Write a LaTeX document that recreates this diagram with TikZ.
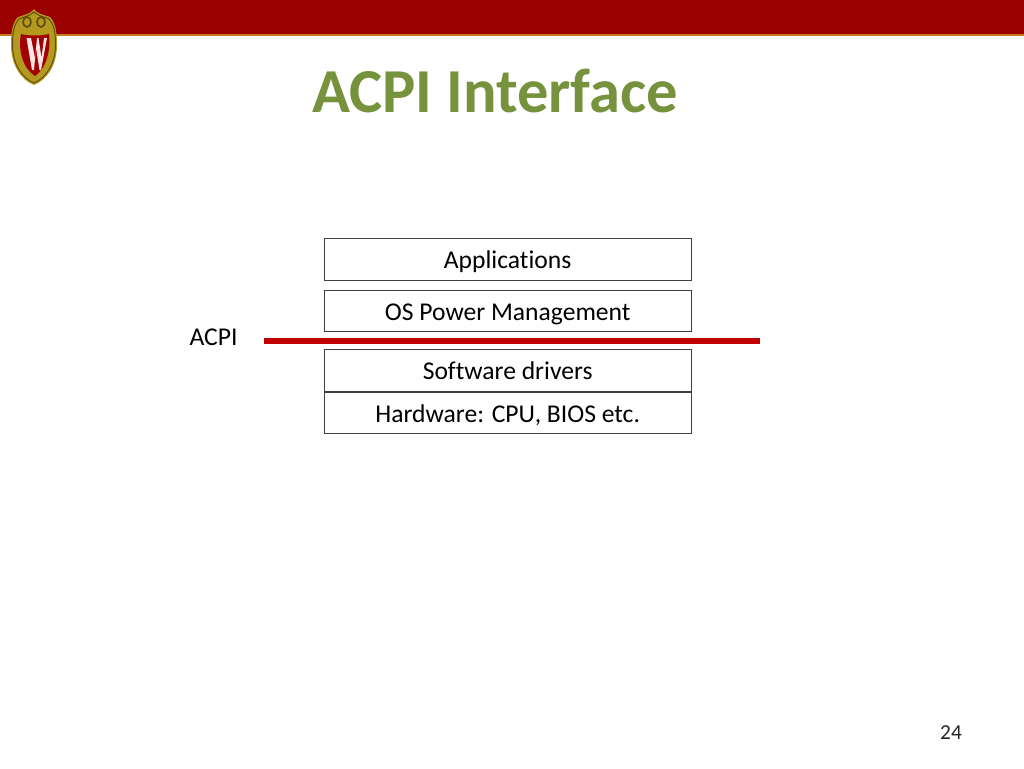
\documentclass[tikz,border=0pt]{standalone}
\usepackage{fontspec}
\setmainfont[Ligatures=NoCommon]{Carlito}
\definecolor{barred}{HTML}{9B0000}
\definecolor{barline}{HTML}{C8781E}
\definecolor{titlegreen}{HTML}{76923C}
\definecolor{acpired}{HTML}{C00000}
\definecolor{crestgold}{HTML}{B39A1E}
\definecolor{crestdark}{HTML}{5E4A10}
\definecolor{boxedge}{HTML}{404040}
\tikzset{
  layerbox/.style={draw=boxedge,line width=1pt,fill=white,minimum width=367pt*0.75,minimum height=41.5pt*0.75,inner sep=0pt,text=black,text height=16pt,text depth=2pt,font=\fontsize{19.2pt}{23pt}\selectfont,anchor=north west},
  plainlabel/.style={inner sep=0pt,text=black,font=\fontsize{19.2pt}{23pt}\selectfont},
}
\begin{document}
\begin{tikzpicture}[x=0.75pt,y=-0.75pt]
\useasboundingbox (0,0) rectangle (1024,768);
\fill[white] (0,0) rectangle (1024,768);
% top band
\fill[barred] (0,0) rectangle (1024,34);
\fill[barline] (0,34) rectangle (1024,35.5);
% crest
\fill[crestgold] (34,9) .. controls (37,14) and (45,15) .. (50,17) .. controls (55,22) and (57,30) .. (57,45) .. controls (57,65) and (47,80) .. (34,85) .. controls (21,80) and (11,65) .. (11,45) .. controls (11,30) and (13,22) .. (18,17) .. controls (23,15) and (31,14) .. (34,9) -- cycle;
\draw[crestdark,line width=0.7pt] (34,12) .. controls (38,16) and (45,17) .. (49,19) .. controls (54,24) and (55.5,32) .. (55.5,45) .. controls (55.5,64) and (46,78) .. (34,83) .. controls (22,78) and (12.5,64) .. (12.5,45) .. controls (12.5,32) and (14,24) .. (19,19) .. controls (23,17) and (30,16) .. (34,12) -- cycle;
\draw[crestdark,line width=1.2pt] (27,22) ellipse (4 and 5);
\draw[crestdark,line width=1.2pt] (41,22) ellipse (4 and 5);
\fill[acpired!85!black] (21,34) .. controls (28,36) and (41,36) .. (49,34) .. controls (51,48) and (47,68) .. (35,76) .. controls (22,68) and (18,48) .. (21,34) -- cycle;
\fill[white!90!red] (26.5,38) -- (31,38) -- (35,58) -- (37,38) -- (38.5,38) -- (41.5,58) -- (44,38) -- (47,38) -- (41,70) -- (39.5,70) -- (36,48) -- (34,70) -- (32,70) -- cycle;
% title
\node[inner sep=0pt,anchor=base west,text=titlegreen,font=\bfseries\fontsize{46.9pt}{54pt}\selectfont] (title) at (312,112) {ACPI Interface};
% layers
\node[layerbox] (apps) at (323.5,238) {Applications};
\node[layerbox] (os) at (323.5,289.5) {OS Power Management};
\node[layerbox] (drv) at (323.5,349) {Software drivers};
\node[layerbox] (hw) at (323.5,391.5) {Hardware: CPU, BIOS etc.};
% ACPI line
\node[plainlabel] (acpi) at (213.5,337) {ACPI};
\coordinate (lineL) at (264,341);
\coordinate (lineR) at (760,341);
\draw[acpired,line width=4.5pt] (lineL) -- (lineR);
% page number
\node[inner sep=0pt,text=black!85,font=\fontsize{16pt}{19pt}\selectfont] (page) at (951,733) {24};
\end{tikzpicture}
\end{document}
